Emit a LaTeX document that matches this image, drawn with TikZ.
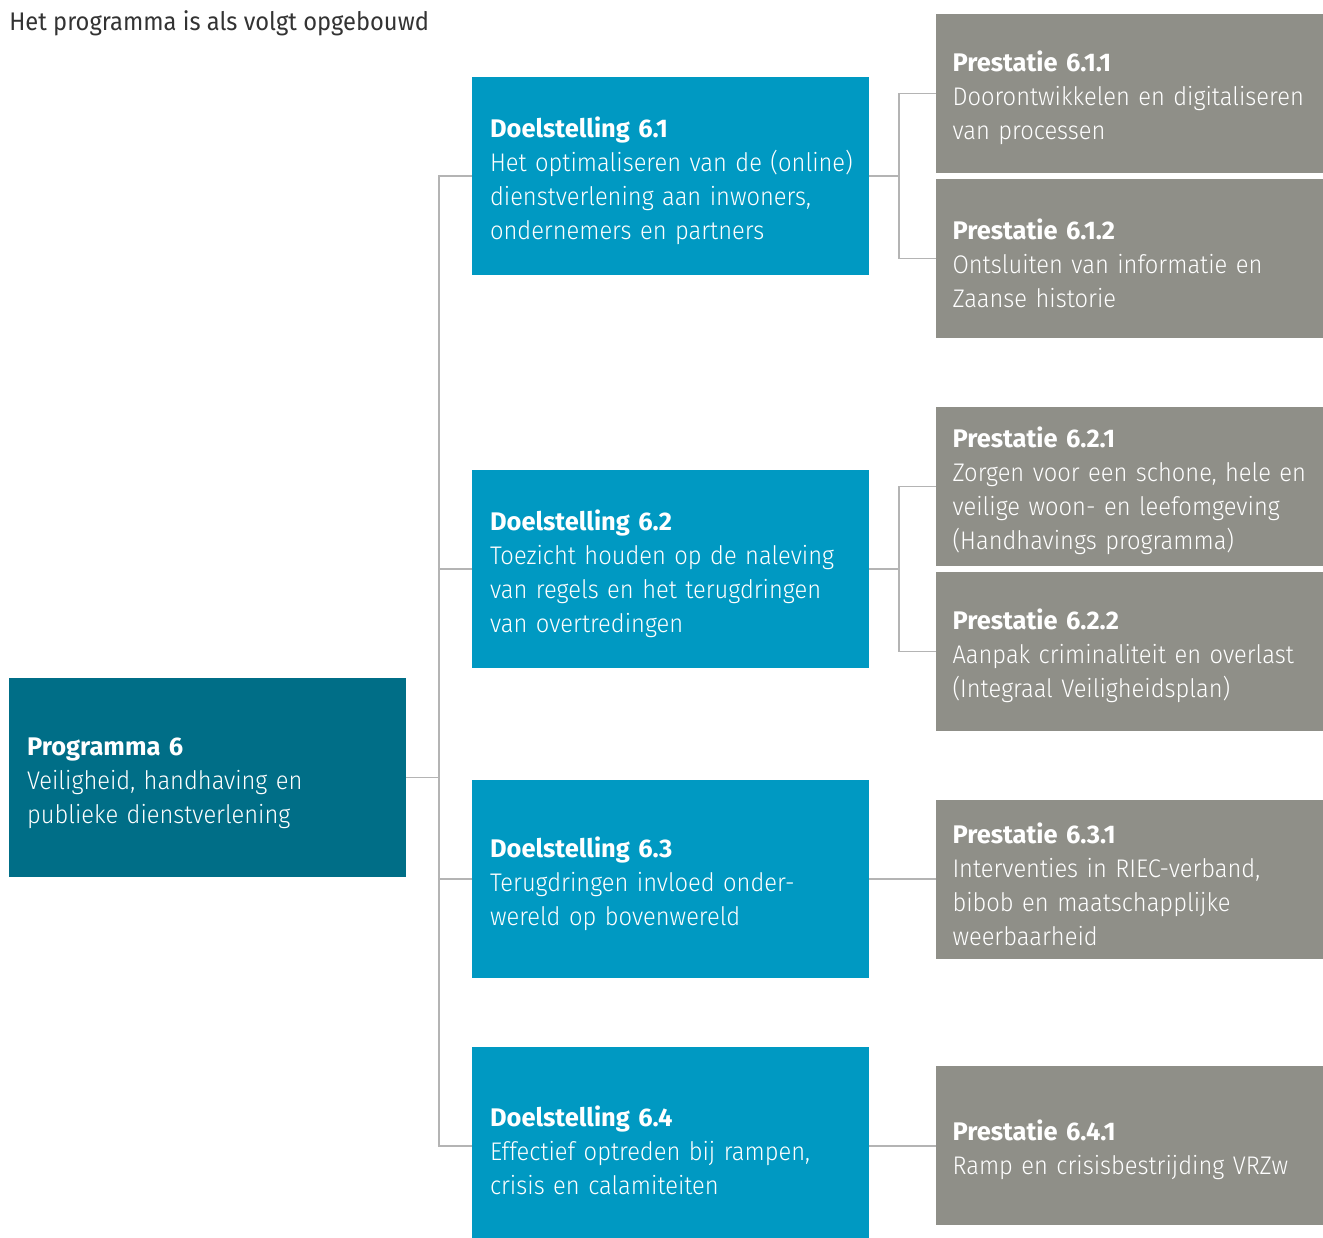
\documentclass[tikz,border=0pt]{standalone}
\usepackage{fontspec}
\setmainfont{Fira Sans}
\newfontfamily\lightfont[FakeStretch=0.93]{Fira Sans Light}
\newfontfamily\titlefont[FakeStretch=0.93]{Fira Sans}
\usepackage{tikz}
\usetikzlibrary{positioning,calc}

\definecolor{progteal}{RGB}{0,110,135}
\definecolor{doelblue}{RGB}{0,153,194}
\definecolor{prestgray}{RGB}{143,143,136}
\definecolor{linegray}{RGB}{180,180,180}
\definecolor{titlegray}{RGB}{51,51,51}

% kop en tekstregel in een blok
\newcommand\kop[1]{\rule{0pt}{17pt}\textbf{#1}}
\newcommand\regel[1]{\mbox{\lightfont #1}}

\tikzset{
  boxtext/.style={text=white, align=left, inner ysep=0pt,
    font=\fontsize{14.5}{19.3}\selectfont},
  progbox/.style={boxtext, fill=progteal, minimum width=7.94cm,
    minimum height=3.98cm, text width=7.22cm, inner xsep=0.36cm},
  doelbox/.style={boxtext, fill=doelblue, minimum width=7.94cm,
    minimum height=3.96cm, text width=7.22cm, inner xsep=0.36cm},
  prestbox/.style={boxtext, fill=prestgray, minimum width=7.74cm,
    minimum height=3.18cm, text width=7.08cm, inner xsep=0.33cm},
  conn/.style={draw=linegray, line width=0.9pt}
}

\begin{document}
\begin{tikzpicture}[x=0.02cm, y=-0.02cm]
  \useasboundingbox (0,0) rectangle (1323,1238);

  \node[anchor=base west, text=titlegray, inner sep=0pt,
        font=\titlefont\fontsize{14.5}{17}\selectfont] (title) at (9,30)
        {Het programma is als volgt opgebouwd};

  % programma
  \node[progbox] (prog) at (207.5,777.5)
    {\kop{Programma 6}\\ \regel{Veiligheid, handhaving en}\\
     \regel{publieke dienstverlening}};

  % doelstellingen
  \node[doelbox] (doel61) at (670.5,176)
    {\kop{Doelstelling 6.1}\\ \regel{Het optimaliseren van de (online)}\\
     \regel{dienstverlening aan inwoners,}\\ \regel{ondernemers en partners}};
  \node[doelbox] (doel62) at (670.5,569)
    {\kop{Doelstelling 6.2}\\ \regel{Toezicht houden op de naleving}\\
     \regel{van regels en het terugdringen}\\ \regel{van overtredingen}};
  \node[doelbox] (doel63) at (670.5,879)
    {\kop{Doelstelling 6.3}\\ \regel{Terugdringen invloed onder-}\\
     \regel{wereld op bovenwereld}};
  \node[doelbox] (doel64) at (670.5,1146)
    {\kop{Doelstelling 6.4}\\ \regel{Effectief optreden bij rampen,}\\
     \regel{crisis en calamiteiten}};

  % prestaties
  \node[prestbox] (pres611) at (1129.5,93.5)
    {\kop{Prestatie 6.1.1}\\ \regel{Doorontwikkelen en digitaliseren}\\
     \regel{van processen}};
  \node[prestbox] (pres612) at (1129.5,258.5)
    {\kop{Prestatie 6.1.2}\\ \regel{Ontsluiten van informatie en}\\
     \regel{Zaanse historie}};
  \node[prestbox] (pres621) at (1129.5,486.5)
    {\kop{Prestatie 6.2.1}\\ \regel{Zorgen voor een schone, hele en}\\
     \regel{veilige woon- en leefomgeving}\\ \regel{(Handhavings programma)}};
  \node[prestbox] (pres622) at (1129.5,651.5)
    {\kop{Prestatie 6.2.2}\\ \regel{Aanpak criminaliteit en overlast}\\
     \regel{(Integraal Veiligheidsplan)}};
  \node[prestbox] (pres631) at (1129.5,879.5)
    {\kop{Prestatie 6.3.1}\\ \regel{Interventies in RIEC-verband,}\\
     \regel{bibob en maatschapplijke}\\ \regel{weerbaarheid}};
  \node[prestbox] (pres641) at (1129.5,1145.5)
    {\kop{Prestatie 6.4.1}\\ \regel{Ramp en crisisbestrijding VRZw}};

  % verbindingen
  \coordinate (trunk) at (439,0);
  \coordinate (fork) at (899,0);
  \draw[conn] (doel61.west) -- (doel61.west -| trunk) |- (doel64.west);
  \draw[conn] (prog.east) -- (prog.east -| trunk);
  \draw[conn] (doel62.west) -- (doel62.west -| trunk);
  \draw[conn] (doel63.west) -- (doel63.west -| trunk);

  \draw[conn] (doel61.east) -- (doel61.east -| fork);
  \draw[conn] (pres611.west) -- (pres611.west -| fork) |- (pres612.west);
  \draw[conn] (doel62.east) -- (doel62.east -| fork);
  \draw[conn] (pres621.west) -- (pres621.west -| fork) |- (pres622.west);
  \draw[conn] (doel63.east) -- (doel63.east -| pres631.west);
  \draw[conn] (doel64.east) -- (doel64.east -| pres641.west);
\end{tikzpicture}
\end{document}
